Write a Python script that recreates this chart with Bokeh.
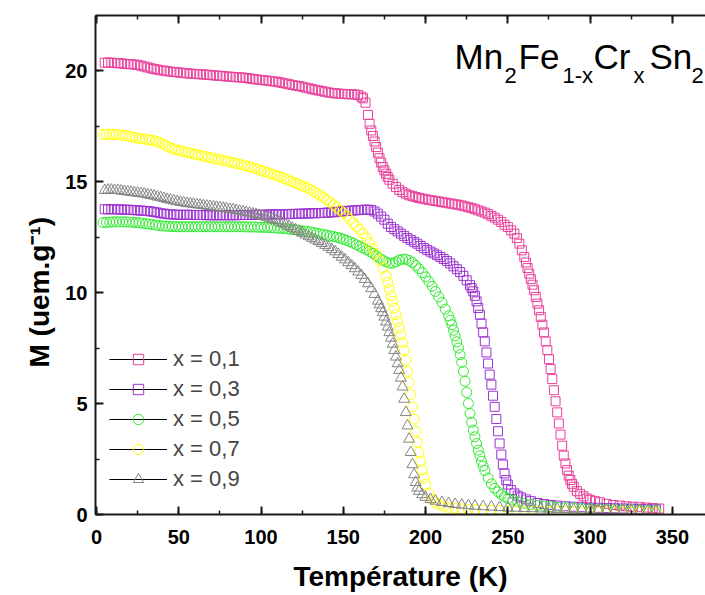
from bokeh.plotting import figure
from bokeh.models import Range1d, LinearAxis, SingleIntervalTicker, Legend, LegendItem, Label, Title
from bokeh.embed import file_html
from bokeh.resources import INLINE

# ---------------- data ----------------
labels = ["x = 0,1", "x = 0,3", "x = 0,5", "x = 0,7", "x = 0,9"]

T01 = [5,7,9,11,13,15,17,19,21,23,25,27,29,31,33,35,37,39,41,43,45,47,49,51,53,55,57,59,61,63,65,67,69,71,73,75,77,79,
       81,83,85,87,89,91,93,95,97,99,101,103,105,107,109,111,113,115,117,119,121,123,125,127,129,131,133,135,137,139,
       141,143,145,147,149,151,153,155,157,159,
       161,162,163.5,165,166,167,168,169,170,171,172,173,174,175,176,177,178,
       180,182,184,186,188,190,192,194,196,198,200,202,204,206,208,210,212,214,216,218,
       220,222,224,226,228,230,232,234,236,238,240,242,244,246,248,250,252,254,
       255.5,257,258.5,
       260,261,262,263,264,265,266,267,268,269,270,271,272,273,274,275,276,277,278,279,280,
       281,282,283,284,285,286,287,288,289,290,
       292,294,296,298,300,303,306,310,314,318,322,326,330,334,338,342]
M01 = [20.35,20.36,20.35,20.34,20.33,20.32,20.3,20.29,20.28,20.27,20.25,20.22,20.18,20.14,20.1,20.07,20.04,20.01,19.99,19.97,
       19.95,19.93,19.92,19.9,19.89,19.87,19.86,19.85,19.84,19.83,19.82,19.81,19.8,19.78,19.77,19.76,19.75,19.73,
       19.72,19.71,19.7,19.69,19.68,19.66,19.64,19.62,19.6,19.58,19.57,19.55,19.53,19.51,19.5,19.47,19.44,19.41,19.38,19.35,
       19.32,19.3,19.27,19.23,19.2,19.16,19.13,19.1,19.07,19.04,19.01,18.99,18.97,18.96,18.95,18.94,18.93,18.93,18.92,18.9,
       18.82,18.75,18.55,18.0,17.6,17.3,17.05,16.8,16.55,16.3,16.05,15.85,15.65,15.5,15.35,15.2,15.08,
       14.9,14.75,14.62,14.52,14.45,14.38,14.34,14.3,14.26,14.23,14.2,14.17,14.15,14.12,14.1,14.07,14.05,14.02,14.0,13.97,
       13.95,13.92,13.88,13.84,13.8,13.75,13.7,13.65,13.6,13.53,13.45,13.37,13.28,13.18,13.05,12.95,12.8,12.65,
       12.45,12.2,11.9,
       11.6,11.35,11.1,10.85,10.6,10.35,10.1,9.8,9.5,9.2,8.9,8.55,8.2,7.8,7.4,7.0,6.55,6.1,5.6,5.1,4.6,
       4.1,3.6,3.1,2.65,2.3,2.0,1.75,1.55,1.38,1.25,
       1.05,0.93,0.82,0.72,0.66,0.6,0.55,0.48,0.43,0.4,0.37,0.35,0.33,0.31,0.29,0.27]

T03 = [5,7,9,11,13,15,17,19,21,23,25,27,29,31,33,35,37,39,41,43,45,47,49,51,53,55,57,59,61,63,65,67,69,71,73,75,77,79,
       81,83,85,87,89,91,93,95,97,99,101,103,105,107,109,111,113,115,117,119,121,123,125,127,129,131,133,135,137,139,
       141,143,145,147,149,151,153,155,157,159,161,163,165,
       167,169,171,173,175,177,179,181,183,185,187,189,191,193,195,197,199,201,203,205,207,209,211,213,215,217,219,221,223,225,227,
       228,229,230,
       231,232,233,234,235,236,237,238,239,240,241,242,243,244,245,246,247,248,249,250,
       252,254,256,258,261,264,268,272,276,280,285,290,295,300,305,310,315,320,325,330,335,340]
M03 = [13.75,13.75,13.75,13.75,13.74,13.74,13.73,13.73,13.72,13.71,
       13.7,13.69,13.68,13.67,13.65,13.63,13.6,13.57,13.55,13.53,
       13.52,13.51,13.5,13.5,13.5,13.5,13.5,13.49,13.49,13.49,
       13.49,13.48,13.48,13.48,13.48,13.48,13.48,13.48,13.48,13.48,
       13.48,13.49,13.49,13.49,13.49,13.5,13.5,13.5,13.5,13.51,
       13.51,13.52,13.52,13.52,13.52,13.53,13.53,13.54,13.54,13.55,
       13.55,13.56,13.56,13.57,13.57,13.58,13.58,13.59,13.6,13.61,
       13.62,13.64,13.65,13.67,13.68,13.69,13.7,13.71,13.72,13.73,13.73,
       13.72,13.65,13.55,13.42,13.28,13.1,12.95,12.85,12.75,12.65,12.55,12.45,12.37,12.28,12.2,12.1,12.0,11.92,11.84,11.76,
       11.68,11.6,11.51,11.42,11.31,11.18,11.05,10.92,10.75,10.55,10.33,
       10.2,10.05,9.85,
       9.6,9.3,9.0,8.6,8.2,7.8,7.3,6.8,6.3,5.85,5.35,4.85,4.3,3.75,3.2,2.7,2.25,1.85,1.55,1.35,
       1.1,0.95,0.85,0.77,0.68,0.6,0.52,0.47,0.43,0.4,0.37,0.35,0.33,0.31,0.3,0.29,0.28,0.27,0.26,0.25,0.24,0.23]

T05 = [4,6,8,10,12,14,16,18,20,22,24,26,28,30,32,34,36,38,40,42,44,46,48,50,52,54,56,58,60,62,64,66,68,70,72,74,76,78,80,82,
       84,86,88,90,92,94,96,98,100,102,104,106,108,110,112,114,116,118,120,122,124,126,128,130,132,134,136,138,140,142,
       144,146,148,150,152,154,156,158,160,162,164,
       166,168,170,172,174,176,178,180,182,184,186,188,190,192,194,196,198,200,202,204,206,208,210,212,214,
       215,216,217,218,219,220,221,222,223,224,225,226,227,228,229,230,231,232,233,234,235,236,
       238,240,242,244,246,248,250,253,256,260,264,268,272,276,280,285,290,295,300,305,310,315,320,325,330,335,340]
M05 = [13.15,13.16,13.17,13.18,13.18,13.18,13.18,13.18,13.17,13.16,
       13.15,13.14,13.12,13.1,13.08,13.06,13.04,13.02,13.0,12.99,
       12.98,12.97,12.97,12.96,12.96,12.96,12.96,12.96,12.96,12.96,
       12.96,12.96,12.96,12.96,12.96,12.96,12.96,12.96,12.96,12.96,
       12.96,12.96,12.96,12.96,12.95,12.95,12.95,12.94,12.94,12.93,
       12.93,12.92,12.91,12.9,12.89,12.88,12.86,12.85,12.83,12.81,
       12.79,12.77,12.75,12.73,12.7,12.67,12.64,12.61,12.58,12.55,
       12.52,12.49,12.45,12.4,12.35,12.29,12.22,12.15,12.08,12.0,11.93,
       11.85,11.76,11.65,11.55,11.46,11.38,11.33,11.32,11.38,11.46,11.5,11.5,11.44,11.35,11.22,11.07,10.89,10.7,10.5,10.28,
       10.05,9.8,9.55,9.25,8.95,
       8.75,8.55,8.3,8.05,7.78,7.5,7.2,6.85,6.45,6.0,5.5,5.0,4.55,4.15,3.8,3.5,3.2,2.9,2.65,2.4,2.18,1.98,
       1.65,1.38,1.18,1.02,0.9,0.8,0.72,0.64,0.57,0.5,0.45,0.41,0.38,0.35,0.33,0.31,0.29,0.27,0.26,0.25,0.24,0.23,0.22,0.21,0.2,0.2,0.19]

T07 = [4,6,8,10,12,14,16,18,20,22,24,26,28,30,32,34,36,38,40,42,44,46,48,50,52,54,56,58,60,62,64,66,68,70,72,74,76,78,80,82,
       84,86,88,90,92,94,96,98,100,102,104,106,108,110,112,114,116,118,120,122,124,126,128,130,132,134,136,138,140,142,
       144,146,148,
       150,152,154,156,158,160,162,164,166,168,170,172,174,176,
       177,178,179,180,181,182,183,184,185,186,187,188,189,190,191,192,193,194,195,196,197,198,199,200,
       202,204,206,208,211,214,218,222,226,230,
       235,240,245,250,255,260,265,270,275,280,285,290,295,300,305,310,315,320,325,330,335,340]
M07 = [17.12,17.13,17.13,17.13,17.12,17.1,17.08,17.06,17.03,17.0,
       16.97,16.95,16.92,16.9,16.88,16.85,16.82,16.77,16.7,16.62,
       16.55,16.49,16.44,16.4,16.37,16.33,16.3,16.26,16.23,16.2,
       16.16,16.13,16.1,16.06,16.03,16.0,15.97,15.93,15.9,15.86,
       15.83,15.8,15.76,15.72,15.68,15.64,15.6,15.55,15.5,15.45,
       15.4,15.35,15.3,15.25,15.2,15.14,15.08,15.02,14.96,14.9,
       14.84,14.78,14.72,14.64,14.55,14.47,14.38,14.28,14.18,14.07,
       13.95,13.84,13.72,
       13.59,13.45,13.3,13.13,12.98,12.83,12.65,12.45,12.22,11.98,11.75,11.45,11.1,10.75,
       10.45,10.15,9.85,9.6,9.3,9.0,8.7,8.4,8.1,7.75,7.4,6.95,6.45,5.95,5.4,4.85,4.3,3.75,3.25,2.8,2.4,2.0,1.65,1.35,
       0.95,0.7,0.55,0.45,0.37,0.32,0.28,0.25,0.23,0.21,
       0.2,0.19,0.18,0.17,0.16,0.15,0.15,0.14,0.14,0.13,0.13,0.13,0.12,0.12,0.12,0.11,0.11,0.11,0.1,0.1,0.1,0.1]

T09 = [5,7,9,11,13,15,17,19,21,23,25,27,29,31,33,35,37,39,41,43,45,47,49,51,53,55,57,59,61,63,65,67,69,71,73,75,77,79,
       81,83,85,87,89,91,93,95,97,99,101,103,105,107,109,111,113,115,117,119,121,123,125,127,129,131,133,135,137,139,
       141,143,145,147,149,151,153,155,157,159,161,
       163,165,167,169,171,172,173,174,
       175,176,177,178,179,180,181,182,183,184,185,186,187,188,189,190,191,192,193,194,195,196,
       198,200,203,206,210,214,218,222,226,230,
       235,240,245,250,255,260,265,270,275,280,285,290,295,300,305,310,315,320,325,330,335,340]
M09 = [14.6,14.62,14.62,14.61,14.6,14.58,14.56,14.54,14.52,14.5,
       14.48,14.46,14.44,14.41,14.38,14.35,14.31,14.28,14.24,14.2,
       14.17,14.13,14.1,14.07,14.05,14.02,14.0,13.98,13.96,13.94,
       13.92,13.9,13.88,13.86,13.84,13.82,13.8,13.78,13.75,13.73,
       13.7,13.67,13.64,13.61,13.58,13.55,13.52,13.48,13.44,13.4,
       13.35,13.3,13.24,13.18,13.12,13.05,12.98,12.9,12.83,12.76,
       12.68,12.6,12.52,12.45,12.37,12.3,12.22,12.13,12.04,11.94,
       11.84,11.72,11.6,11.48,11.35,11.22,11.08,10.93,10.78,
       10.6,10.4,10.18,9.92,9.62,9.45,9.28,9.1,
       8.9,8.68,8.45,8.2,7.95,7.68,7.4,7.1,6.8,6.5,6.15,5.75,5.2,4.6,4.0,3.4,2.8,2.25,1.8,1.45,1.2,1.05,
       0.9,0.78,0.68,0.61,0.55,0.5,0.46,0.43,0.4,0.38,
       0.36,0.34,0.32,0.3,0.29,0.28,0.27,0.26,0.25,0.24,0.23,0.22,0.21,0.2,0.2,0.19,0.18,0.18,0.17,0.16,0.16,0.15]

series_T = [T01, T03, T05, T07, T09]
series_M = [M01, M03, M05, M07, M09]
for a, b in zip(series_T, series_M):
    assert len(a) == len(b), (len(a), len(b))

x_ticks_interval = 50
y_ticks_interval = 5

# ---------------- styles ----------------
colors = ["#E8409A", "#9B33D0", "#2EEA2E", "#FFFF00", "#858585"]
markers = ["square", "square", "circle", "circle", "triangle"]
msizes = [9, 9, 10, 10, 11]
FONT = "Liberation Sans"

W, H = 705, 595
# frame geometry (page pixels) used only for placing annotations
FL, FB, FT, SX, SY, X0 = 95, 514, 15, 1.6454, 22.2, -0.6
X1 = X0 + (W - FL) / SX
Y1 = (FB - FT) / SY

def dx(px):
    return X0 + (px - FL) / SX

def dy(py):
    return (FB - py) / SY

p = figure(width=W, height=H, output_backend="svg", toolbar_location=None,
           x_range=Range1d(X0, X1), y_range=Range1d(0, Y1),
           min_border_left=FL, min_border_right=0, min_border_top=FT,
           min_border_bottom=H - FB,
           x_axis_location=None, y_axis_location=None)
p.outline_line_color = None
p.background_fill_color = "white"
p.border_fill_color = "white"
p.xgrid.grid_line_color = None
p.ygrid.grid_line_color = None

def make_axis(interval, show_labels=True, standoff=8):
    ax = LinearAxis(ticker=SingleIntervalTicker(interval=interval, num_minor_ticks=2))
    ax.axis_line_width = 2
    ax.axis_line_color = "#1a1a1a"
    ax.major_tick_in = 8
    ax.major_tick_out = 0
    ax.minor_tick_in = 4
    ax.minor_tick_out = 0
    ax.major_tick_line_width = 2
    ax.minor_tick_line_width = 1.5
    ax.major_tick_line_color = "#1a1a1a"
    ax.minor_tick_line_color = "#1a1a1a"
    ax.major_label_text_font = FONT
    ax.major_label_text_font_style = "bold"
    ax.major_label_standoff = standoff
    ax.axis_label_text_font = FONT
    ax.axis_label_text_font_style = "bold"
    ax.axis_label_text_font_size = "28px"
    ax.axis_label_text_color = "black"
    if show_labels:
        ax.major_label_text_font_size = "20px"
        ax.major_label_text_color = "black"
    else:
        ax.major_label_text_font_size = "1px"
        ax.major_label_text_color = None
    return ax

xb = make_axis(x_ticks_interval, True, 15)
xb.axis_label = "Température (K)"
xb.axis_label_standoff = 14
yl = make_axis(y_ticks_interval, True, 8)
xt = make_axis(x_ticks_interval, False, 0)
p.add_layout(xb, "below")
p.add_layout(yl, "left")
p.add_layout(xt, "above")

# y-axis title as a side title, started near the bottom like the reference
ytitle = Title(text="M (uem.g\u207b\u00b9)", align="left", offset=147, standoff=15,
               text_font=FONT, text_font_size="28px", text_font_style="bold",
               text_color="black")
p.add_layout(ytitle, "left")

items = []
for T, M, c, mk, ms, lab in zip(series_T, series_M, colors, markers, msizes, labels):
    r = p.scatter(T, M, marker=mk, size=ms, fill_color=None, line_color=c, line_width=1)
    lr = p.line(T, M, line_color="black", line_width=1, visible=False)
    items.append(LegendItem(label=lab, renderers=[lr, r]))

legend = Legend(items=items, location=(14, 22), padding=0, margin=0, spacing=4,
                glyph_width=58, glyph_height=26, label_height=26, label_standoff=6,
                label_text_font=FONT, label_text_font_size="22px",
                border_line_color=None, background_fill_alpha=0,
                inactive_fill_alpha=0)
p.add_layout(legend)

def lab(text, px, py, size):
    p.add_layout(Label(x=dx(px), y=dy(py), text=text, text_font=FONT,
                       text_font_size=f"{size}px", text_align="left",
                       text_baseline="alphabetic", text_color="black"))

# title: Mn2Fe1-xCrxSn2 (shifted a few pixels left so the last subscript stays inside)
MAIN_Y, SUB_Y, SH = 56, 75, -5
lab("Mn", 459 + SH, MAIN_Y, 35)
lab("2", 509 + SH, SUB_Y, 22)
lab("Fe", 523 + SH, MAIN_Y, 35)
lab("1-x", 567 + SH, SUB_Y, 22)
lab("Cr", 598 + SH, MAIN_Y, 35)
lab("x", 638 + SH, SUB_Y, 22)
lab("Sn", 654 + SH, MAIN_Y, 35)
lab("2", 696 + SH, SUB_Y, 22)

open("out.html", "w").write(file_html(p, INLINE))
